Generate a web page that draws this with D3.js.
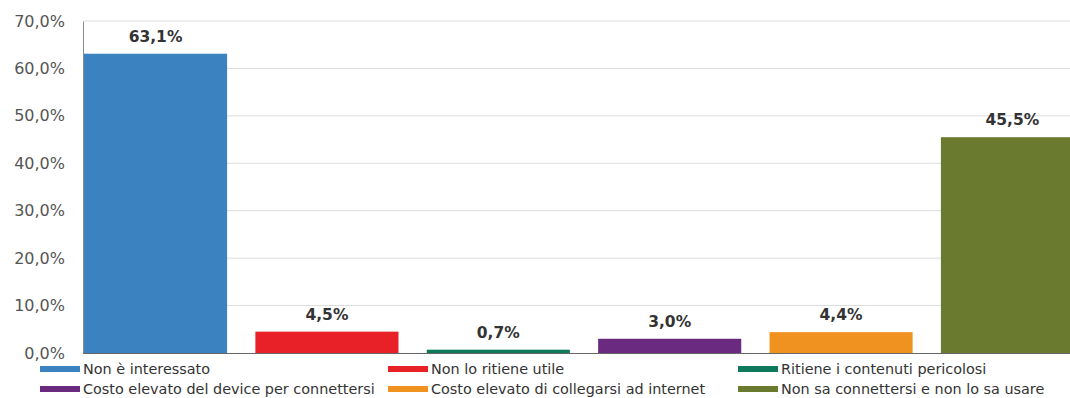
<!DOCTYPE html>
<html>
<head>
<meta charset="utf-8">
<script src="https://cdn.jsdelivr.net/npm/d3@7"></script>
<style>
  body { margin: 0; background: #fff; }
  text { font-family: "DejaVu Sans", Verdana, sans-serif; }
</style>
</head>
<body>
<div id="chart"></div>
<script>
// data
const categories = ["Non è interessato", "Non lo ritiene utile", "Ritiene i contenuti pericolosi",
  "Costo elevato del device per connettersi", "Costo elevato di collegarsi ad internet",
  "Non sa connettersi e non lo sa usare"];
const values = [63.1, 4.5, 0.7, 3.0, 4.4, 45.5];
const colors = ["#3b83c0", "#e82027", "#0e7a5b", "#6a2a7f", "#f0921f", "#6a7b2f"];
const yTicks = [0, 10, 20, 30, 40, 50, 60, 70];

const width = 1070;
const height = 398;
const plot_left = 84;
const plot_right = 1084;
const plot_top = 21;
const plot_bottom = 353;

const svg = d3.select("#chart").append("svg").attr("width", width).attr("height", height);

const fmt = v => v.toFixed(1).replace(".", ",") + "%";

const xScale = d3.scaleBand().domain(categories).range([plot_left, plot_right])
  .paddingInner(0.165).paddingOuter(0);
const yScale = d3.scaleLinear().domain([0, 70]).range([plot_bottom, plot_top]);

// gridlines
svg.append("g").selectAll("line").data(yTicks.slice(1)).enter()
  .append("line")
  .attr("x1", plot_left).attr("x2", width)
  .attr("y1", d => yScale(d)).attr("y2", d => yScale(d))
  .attr("stroke", "#dcdcdc").attr("stroke-width", 1);

// y axis
const yAxis = d3.axisLeft(yScale).tickValues(yTicks).tickFormat(fmt).tickSize(0).tickPadding(18);
const gy = svg.append("g").attr("transform", `translate(${plot_left - 1},0)`).call(yAxis);
gy.select(".domain").attr("stroke", "#8c8c8c");
gy.selectAll("text").attr("font-size", 16).attr("fill", "#555").attr("font-family", "DejaVu Sans, Verdana, sans-serif");

// bars
svg.selectAll("rect.bar").data(values).enter()
  .append("rect").attr("class", "bar")
  .attr("x", (d, i) => xScale(categories[i]))
  .attr("width", xScale.bandwidth())
  .attr("y", d => yScale(d))
  .attr("height", d => plot_bottom - yScale(d))
  .attr("fill", (d, i) => colors[i]);

// value labels
svg.selectAll("text.val").data(values).enter()
  .append("text").attr("class", "val")
  .attr("x", (d, i) => xScale(categories[i]) + xScale.bandwidth() / 2)
  .attr("y", d => yScale(d) - 12)
  .attr("text-anchor", "middle")
  .attr("font-size", 15.5).attr("font-weight", "bold").attr("fill", "#333")
  .text(fmt);

// x baseline
svg.append("line").attr("x1", plot_left - 1).attr("x2", width)
  .attr("y1", plot_bottom + 0.5).attr("y2", plot_bottom + 0.5)
  .attr("stroke", "#666").attr("stroke-width", 1.2);

// legend
const legendX = [40, 388, 738];
const legendY = [369, 389];
const legend = svg.append("g").selectAll("g").data(categories).enter()
  .append("g")
  .attr("transform", (d, i) => `translate(${legendX[i % 3]},${legendY[Math.floor(i / 3)]})`);
legend.append("rect").attr("x", 0).attr("y", -3).attr("width", 40).attr("height", 6)
  .attr("fill", (d, i) => colors[i]);
legend.append("text").attr("x", 43).attr("y", 5)
  .attr("font-size", 14.4).attr("fill", "#333").text(d => d);
</script>
</body>
</html>
